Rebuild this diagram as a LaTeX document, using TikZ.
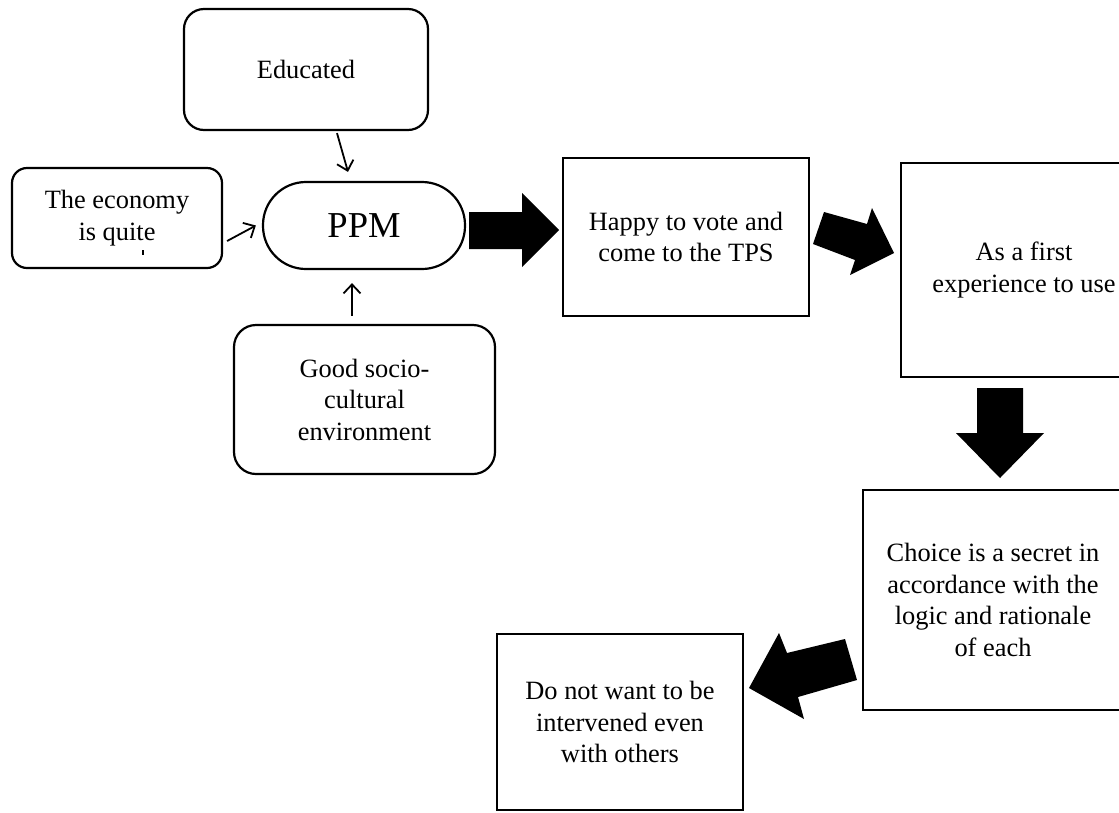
\documentclass[tikz,border=0pt]{standalone}
\usepackage{fontspec}
\setmainfont{Liberation Serif}
\usetikzlibrary{arrows.meta,calc}
\begin{document}
\begin{tikzpicture}[x=1pt,y=-1pt,
  box/.style={draw, line width=2.2pt, inner sep=0pt, align=center,
    font=\fontsize{26.4}{31.5}\selectfont},
  rbox/.style={box, rounded corners=20pt},
  sqbox/.style={box, sharp corners},
  thinarrow/.style={line width=1.8pt,
    -{Straight Barb[length=9pt,width=17pt,line width=1.8pt]}},
  blockarrow/.style={fill=black}]
\useasboundingbox (0,0) rectangle (1119,812);
% nodes
\node[rbox, minimum width=244pt, minimum height=121pt] (edu) at (306,69.5) {Educated};
\node[rbox, rounded corners=15pt, minimum width=210pt, minimum height=100pt] (eco) at (117,218) {The economy\\is quite};
\node[box, rounded corners=43pt, minimum width=202pt, minimum height=87pt,
  font=\fontsize{36.5}{40}\selectfont] (ppm) at (364,225.5) {PPM};
\node[rbox, rounded corners=22pt, minimum width=261pt, minimum height=149pt] (soc) at (364.5,399.5) {Good socio-\\cultural\\environment};
\node[sqbox, minimum width=246pt, minimum height=158pt] (happy) at (686,237) {Happy to vote and\\come to the TPS};
\node[sqbox, minimum width=246pt, minimum height=214pt] (first) at (1024,270) {As a first\\experience to use};
\node[sqbox, minimum width=260pt, minimum height=220pt] (choice) at (993,600) {Choice is a secret in\\accordance with the\\logic and rationale\\of each};
\node[sqbox, minimum width=246pt, minimum height=176pt] (donot) at (620,722) {Do not want to be\\intervened even\\with others};
% clipped remnant under "is quite"
\fill (142,250) rectangle (144,255);
% thin arrows
\draw[thinarrow] ([xshift=31pt,yshift=-2pt]edu.south) -- ([xshift=-16pt,yshift=9pt]ppm.north);
\draw[thinarrow] ([xshift=4pt,yshift=-23pt]eco.east) -- ([xshift=-6pt]ppm.west);
\draw[thinarrow] ([xshift=-12.5pt,yshift=8pt]soc.north) -- ([xshift=-12pt,yshift=-13pt]ppm.south);
% block arrows
\fill[blockarrow] (469,212) -- (522,212) -- (522,193) -- (559,230) -- (522,267) -- (522,249) -- (469,249) -- cycle;
\fill[blockarrow] (813,244) -- (824,212) -- (867,224) -- (872,208) -- (894,253) -- (850,275) -- (855,260) -- cycle;
\fill[blockarrow] (977,388) -- (1023,388) -- (1023,433) -- (1044,433) -- (1000,478) -- (956,433) -- (977,433) -- cycle;
\fill[blockarrow] (857,680) -- (845,639) -- (787,653) -- (779,633) -- (749,688) -- (804,719) -- (798,697) -- cycle;
\end{tikzpicture}
\end{document}
